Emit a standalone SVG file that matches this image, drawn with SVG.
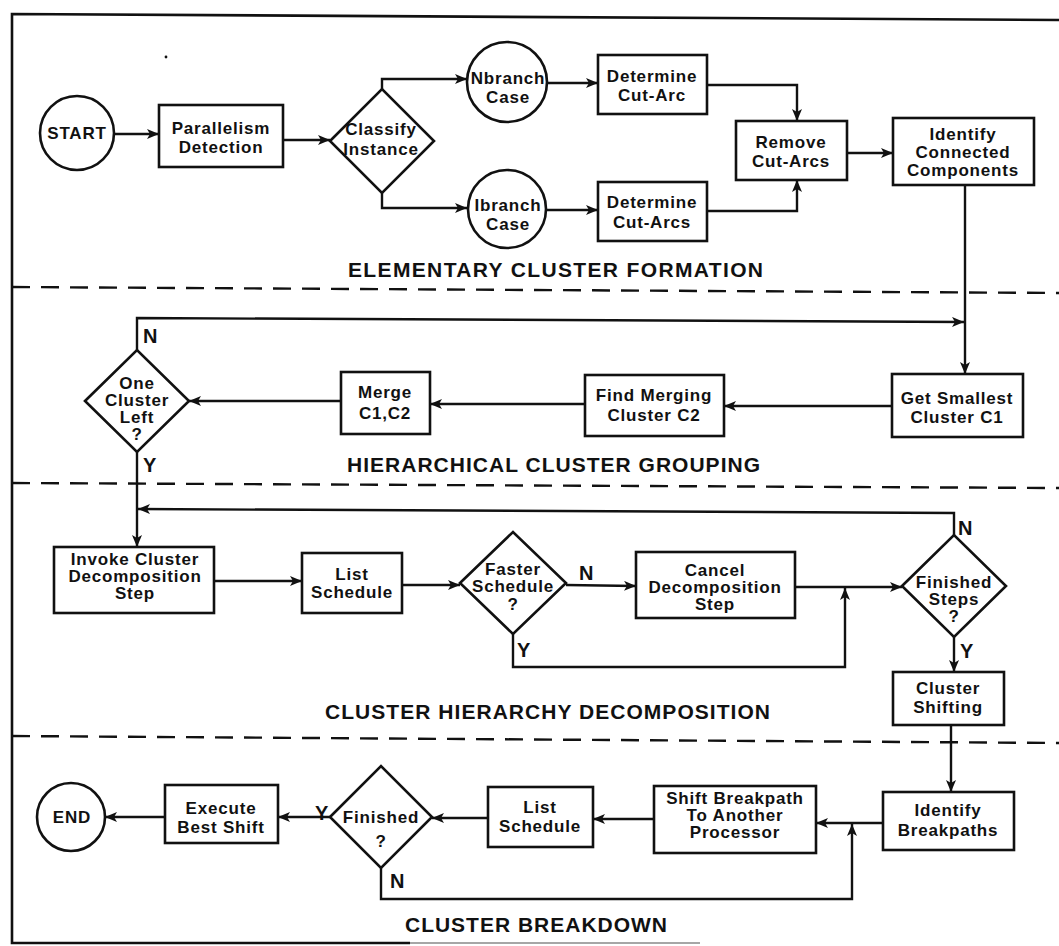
<svg xmlns="http://www.w3.org/2000/svg" width="1059" height="946" viewBox="0 0 1059 946">
  <defs>
    <marker id="ah" viewBox="0 0 12 10" refX="12" refY="5" markerWidth="12" markerHeight="10" markerUnits="userSpaceOnUse" orient="auto">
      <path d="M0,0 L12,5 L0,10 L3,5 z" fill="#111"/>
    </marker>
    <style>
      .shape { fill: #fff; stroke: #111; stroke-width: 2.6; }
      .frame { fill: none; stroke: #111; stroke-width: 2.6; }
      .sep { fill: none; stroke: #111; stroke-width: 2.4; stroke-dasharray: 18 11; }
      .wire { fill: none; stroke: #111; stroke-width: 2.4; stroke-linejoin: miter; }
      .arrow { marker-end: url(#ah); }
      text { font-family: "Liberation Sans", Arial, Helvetica, sans-serif; font-weight: bold; fill: #111; }
      .t { font-size: 17px; letter-spacing: 0.8px; text-anchor: middle; }
      .lbl { font-size: 20px; }
      .title { font-size: 21px; }
    </style>
  </defs>

  <rect x="0" y="0" width="1059" height="946" fill="#fff"/>

  <!-- outer frame (open on the right) -->
  <g id="frame">
    <polyline class="frame" points="1059,20 12,14 12,943 410,943"/>
    <line x1="410" y1="943" x2="700" y2="943" stroke="#888" stroke-width="1.6"/>
    <circle cx="166" cy="57" r="1.4" fill="#111"/>
  </g>

  <!-- section separators -->
  <g id="separators">
    <line class="sep" x1="12" y1="287" x2="1059" y2="293"/>
    <line class="sep" x1="12" y1="483" x2="1059" y2="488"/>
    <line class="sep" x1="12" y1="736" x2="1059" y2="743"/>
  </g>

  <!-- section titles -->
  <g id="titles">
    <text class="title" x="348" y="277" textLength="415" lengthAdjust="spacing">ELEMENTARY  CLUSTER  FORMATION</text>
    <text class="title" x="347" y="472" textLength="413" lengthAdjust="spacing">HIERARCHICAL  CLUSTER  GROUPING</text>
    <text class="title" x="325" y="719" textLength="445" lengthAdjust="spacing">CLUSTER  HIERARCHY  DECOMPOSITION</text>
    <text class="title" x="405" y="932" textLength="262" lengthAdjust="spacing">CLUSTER  BREAKDOWN</text>
  </g>

  <!-- connectors -->
  <g id="connectors">
    <line class="wire arrow" x1="115" y1="134" x2="159" y2="134"/>
    <line class="wire arrow" x1="283" y1="140" x2="330" y2="140"/>
    <polyline class="wire arrow" points="382,89 382,79 467,79"/>
    <polyline class="wire arrow" points="382,193 382,208 467,208"/>
    <line class="wire arrow" x1="548" y1="83" x2="598" y2="83"/>
    <line class="wire arrow" x1="546" y1="210" x2="598" y2="210"/>
    <polyline class="wire arrow" points="707,85 797,85 797,121"/>
    <polyline class="wire arrow" points="707,211 797,211 797,180"/>
    <line class="wire arrow" x1="847" y1="153" x2="893" y2="153"/>
    <line class="wire arrow" x1="965" y1="185" x2="965" y2="374"/>

    <polyline class="wire arrow" points="137,350 137,318 964,322"/>
    <line class="wire arrow" x1="892" y1="406" x2="724" y2="406"/>
    <line class="wire arrow" x1="585" y1="404" x2="430" y2="404"/>
    <line class="wire arrow" x1="341" y1="401" x2="189" y2="401"/>
    <line class="wire arrow" x1="137" y1="452" x2="137" y2="547"/>

    <polyline class="wire arrow" points="954,535 954,513 138,509"/>
    <line class="wire arrow" x1="214" y1="581" x2="302" y2="581"/>
    <line class="wire arrow" x1="402" y1="585" x2="460" y2="585"/>
    <line class="wire arrow" x1="566" y1="585" x2="636" y2="586"/>
    <line class="wire arrow" x1="795" y1="587" x2="902" y2="587"/>
    <polyline class="wire arrow" points="513,634 513,667 845,667 845,588"/>
    <line class="wire arrow" x1="954" y1="637" x2="954" y2="672"/>

    <line class="wire arrow" x1="951" y1="725" x2="951" y2="792"/>
    <line class="wire arrow" x1="883" y1="823" x2="816" y2="823"/>
    <line class="wire arrow" x1="654" y1="819" x2="593" y2="819"/>
    <line class="wire arrow" x1="488" y1="818" x2="432" y2="818"/>
    <line class="wire arrow" x1="330" y1="817" x2="278" y2="817"/>
    <line class="wire arrow" x1="165" y1="817" x2="105" y2="817"/>
    <polyline class="wire arrow" points="381,868 381,899 852,899 852,824"/>
  </g>

  <!-- branch labels -->
  <g id="branch-labels">
    <text class="lbl" x="143" y="343">N</text>
    <text class="lbl" x="143" y="472">Y</text>
    <text class="lbl" x="579" y="580">N</text>
    <text class="lbl" x="517" y="657">Y</text>
    <text class="lbl" x="958" y="535">N</text>
    <text class="lbl" x="960" y="658">Y</text>
    <text class="lbl" x="315" y="820">Y</text>
    <text class="lbl" x="390" y="888">N</text>
  </g>

  <!-- elementary cluster formation -->
  <g id="start">
    <circle class="shape" cx="77" cy="133" r="37"/>
    <text class="t" x="77" y="139">START</text>
  </g>
  <g id="parallelism-detection">
    <rect class="shape" x="159" y="105" width="124" height="62"/>
    <text class="t" x="221" y="134">Parallelism</text>
    <text class="t" x="221" y="153">Detection</text>
  </g>
  <g id="classify-instance">
    <polygon class="shape" points="330,141 382,89 434,141 382,193"/>
    <text class="t" x="381" y="135">Classify</text>
    <text class="t" x="381" y="155">Instance</text>
  </g>
  <g id="nbranch-case">
    <circle class="shape" cx="507" cy="82" r="40"/>
    <text class="t" x="508" y="84">Nbranch</text>
    <text class="t" x="508" y="103">Case</text>
  </g>
  <g id="ibranch-case">
    <circle class="shape" cx="507" cy="209" r="39"/>
    <text class="t" x="508" y="211">Ibranch</text>
    <text class="t" x="508" y="230">Case</text>
  </g>
  <g id="determine-cut-arc">
    <rect class="shape" x="598" y="55" width="109" height="59"/>
    <text class="t" x="652" y="82">Determine</text>
    <text class="t" x="652" y="101">Cut-Arc</text>
  </g>
  <g id="determine-cut-arcs">
    <rect class="shape" x="598" y="182" width="109" height="59"/>
    <text class="t" x="652" y="208">Determine</text>
    <text class="t" x="652" y="228">Cut-Arcs</text>
  </g>
  <g id="remove-cut-arcs">
    <rect class="shape" x="736" y="121" width="111" height="59"/>
    <text class="t" x="791" y="148">Remove</text>
    <text class="t" x="791" y="167">Cut-Arcs</text>
  </g>
  <g id="identify-components">
    <rect class="shape" x="893" y="118" width="141" height="67"/>
    <text class="t" x="963" y="140">Identify</text>
    <text class="t" x="963" y="158">Connected</text>
    <text class="t" x="963" y="176">Components</text>
  </g>

  <!-- hierarchical cluster grouping -->
  <g id="get-smallest">
    <rect class="shape" x="892" y="374" width="131" height="63"/>
    <text class="t" x="957" y="404">Get Smallest</text>
    <text class="t" x="957" y="423">Cluster C1</text>
  </g>
  <g id="find-merging">
    <rect class="shape" x="585" y="375" width="139" height="61"/>
    <text class="t" x="654" y="401">Find Merging</text>
    <text class="t" x="654" y="421">Cluster C2</text>
  </g>
  <g id="merge">
    <rect class="shape" x="341" y="372" width="89" height="62"/>
    <text class="t" x="385" y="398">Merge</text>
    <text class="t" x="385" y="419">C1,C2</text>
  </g>
  <g id="one-cluster-left">
    <polygon class="shape" points="85,401 137,350 189,401 137,452"/>
    <text class="t" x="137" y="389">One</text>
    <text class="t" x="137" y="406">Cluster</text>
    <text class="t" x="137" y="423">Left</text>
    <text class="t" x="137" y="440">?</text>
  </g>

  <!-- cluster hierarchy decomposition -->
  <g id="invoke-decomposition">
    <rect class="shape" x="54" y="547" width="160" height="66"/>
    <text class="t" x="135" y="565">Invoke Cluster</text>
    <text class="t" x="135" y="582">Decomposition</text>
    <text class="t" x="135" y="599">Step</text>
  </g>
  <g id="list-schedule-1">
    <rect class="shape" x="302" y="553" width="100" height="60"/>
    <text class="t" x="352" y="580">List</text>
    <text class="t" x="352" y="598">Schedule</text>
  </g>
  <g id="faster-schedule">
    <polygon class="shape" points="460,583 513,532 566,583 513,634"/>
    <text class="t" x="513" y="575">Faster</text>
    <text class="t" x="513" y="592">Schedule</text>
    <text class="t" x="513" y="610">?</text>
  </g>
  <g id="cancel-decomposition">
    <rect class="shape" x="636" y="552" width="159" height="66"/>
    <text class="t" x="715" y="576">Cancel</text>
    <text class="t" x="715" y="593">Decomposition</text>
    <text class="t" x="715" y="610">Step</text>
  </g>
  <g id="finished-steps">
    <polygon class="shape" points="902,586 954,535 1006,586 954,637"/>
    <text class="t" x="954" y="588">Finished</text>
    <text class="t" x="954" y="605">Steps</text>
    <text class="t" x="954" y="622">?</text>
  </g>
  <g id="cluster-shifting">
    <rect class="shape" x="893" y="672" width="111" height="53"/>
    <text class="t" x="948" y="694">Cluster</text>
    <text class="t" x="948" y="713">Shifting</text>
  </g>

  <!-- cluster breakdown -->
  <g id="identify-breakpaths">
    <rect class="shape" x="883" y="792" width="131" height="58"/>
    <text class="t" x="948" y="816">Identify</text>
    <text class="t" x="948" y="836">Breakpaths</text>
  </g>
  <g id="shift-breakpath">
    <rect class="shape" x="654" y="786" width="162" height="67"/>
    <text class="t" x="735" y="804">Shift Breakpath</text>
    <text class="t" x="735" y="821">To Another</text>
    <text class="t" x="735" y="838">Processor</text>
  </g>
  <g id="list-schedule-2">
    <rect class="shape" x="488" y="787" width="105" height="60"/>
    <text class="t" x="540" y="813">List</text>
    <text class="t" x="540" y="832">Schedule</text>
  </g>
  <g id="finished">
    <polygon class="shape" points="330,817 381,766 432,817 381,868"/>
    <text class="t" x="381" y="823">Finished</text>
    <text class="t" x="381" y="847">?</text>
  </g>
  <g id="execute-best-shift">
    <rect class="shape" x="165" y="785" width="113" height="58"/>
    <text class="t" x="221" y="814">Execute</text>
    <text class="t" x="221" y="833">Best Shift</text>
  </g>
  <g id="end">
    <circle class="shape" cx="71" cy="817" r="34"/>
    <text class="t" x="72" y="823">END</text>
  </g>
</svg>
